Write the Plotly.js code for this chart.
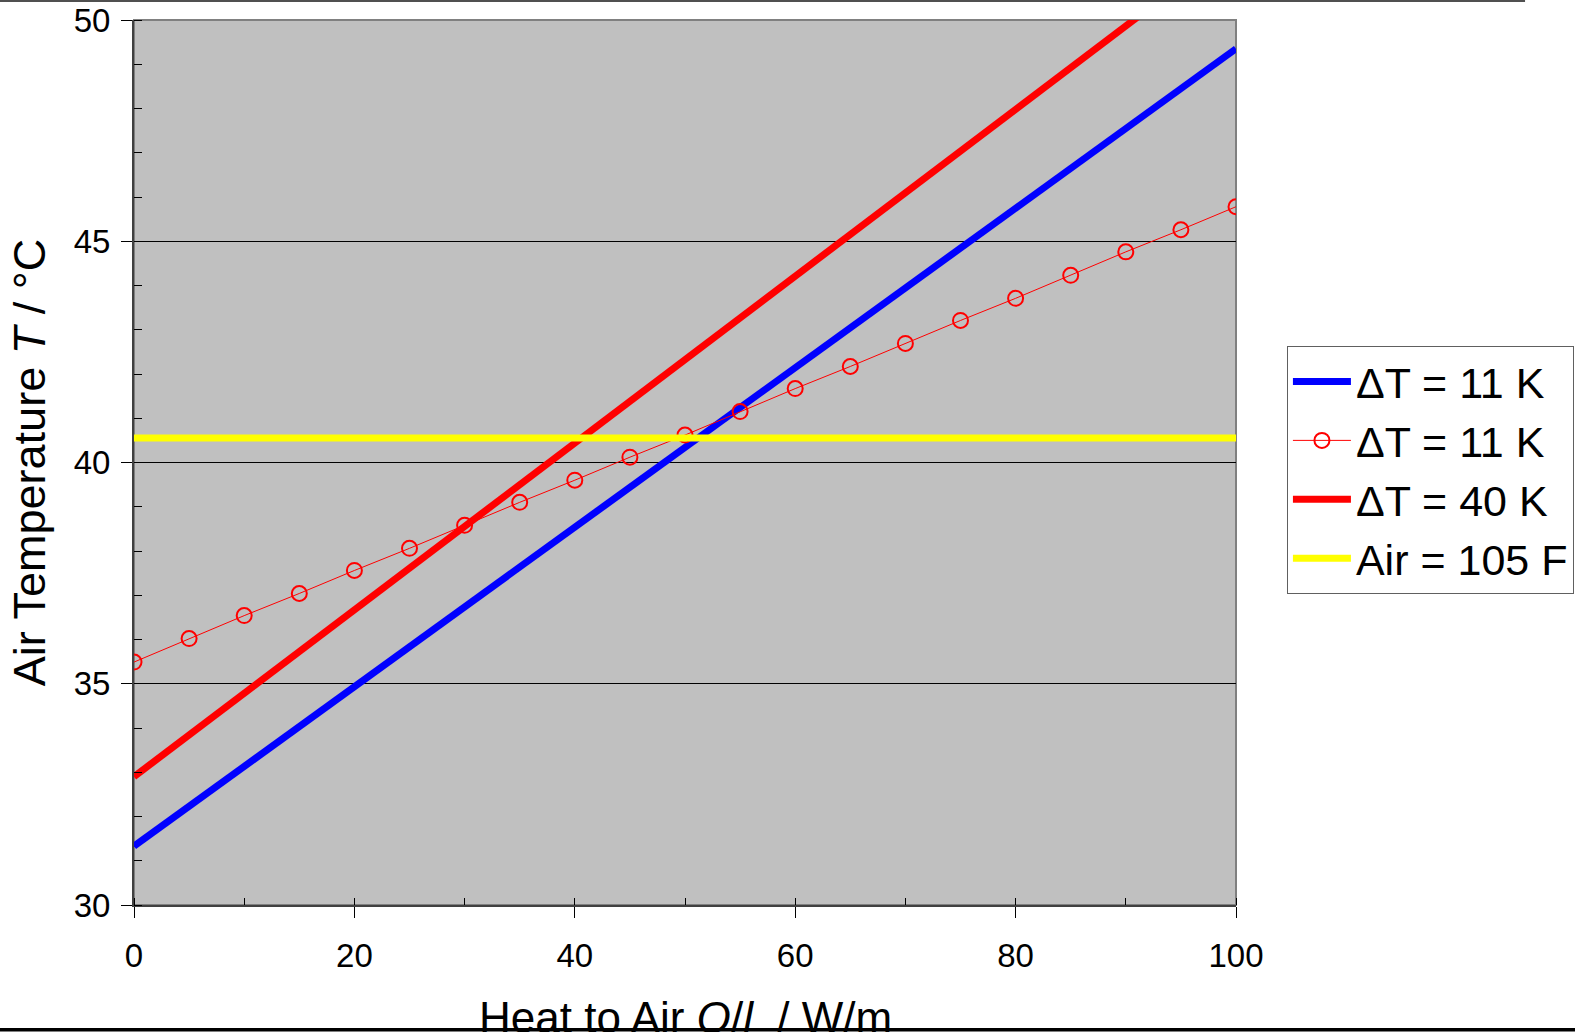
<!DOCTYPE html>
<html>
<head>
<meta charset="utf-8">
<script src="https://cdn.plot.ly/plotly-3.0.1.min.js"></script>
<style>html,body{margin:0;padding:0;background:#fff;}#chart{width:1575px;height:1032px;}</style>
</head>
<body>
<div id="chart"></div>
<script>
// Data
const lineX = [0, 100];
const blue11K = [31.33, 49.35];
const red40KX = [0, 100];
const red40K = [32.9, 51.75];
const air105F = [40.556, 40.556];

const markerX = [0, 5, 10, 15, 20, 25, 30, 35, 40, 45, 50, 55, 60, 65, 70, 75, 80, 85, 90, 95, 100];
const marker11K = [35.49, 36.02, 36.54, 37.04, 37.56, 38.06, 38.58, 39.10, 39.60, 40.12, 40.62,
                   41.15, 41.67, 42.17, 42.69, 43.21, 43.71, 44.23, 44.76, 45.26, 45.78];

const seriesNames = ['\u0394T = 11 K', '\u0394T = 11 K', '\u0394T = 40 K', 'Air = 105 F'];
const xTickVals = [0, 20, 40, 60, 80, 100];
const yTickVals = [30, 35, 40, 45, 50];
const xTitle = 'Heat to Air <i>Q</i>/<i>l</i>  / W/m';
const yTitle = 'Air Temperature <i>T</i> / \u00B0C';

const FONT = 'Liberation Sans, Arial, sans-serif';

const traces = [
  {x: lineX, y: blue11K, name: seriesNames[0], mode: 'lines',
   line: {color: '#0000FF', width: 7}},
  {x: markerX, y: marker11K, name: seriesNames[1], mode: 'lines+markers',
   line: {color: '#FF0000', width: 1},
   marker: {symbol: 'circle-open', size: 15, color: '#FF0000', line: {width: 2, color: '#FF0000'}}},
  {x: red40KX, y: red40K, name: seriesNames[2], mode: 'lines',
   line: {color: '#FF0000', width: 7}},
  {x: lineX, y: air105F, name: seriesNames[3], mode: 'lines',
   line: {color: '#FFFF00', width: 7}}
];

const layout = {
  width: 1575, height: 1032,
  margin: {l: 134, r: 339, t: 20, b: 127, pad: 0, autoexpand: false},
  paper_bgcolor: '#FFFFFF',
  plot_bgcolor: '#C0C0C0',
  font: {family: FONT, color: '#000000', size: 33},
  showlegend: true,
  legend: {
    xref: 'container', yref: 'container',
    x: 0.8171, y: 0.6647, xanchor: 'left', yanchor: 'top',
    bgcolor: '#FFFFFF', bordercolor: '#606060', borderwidth: 1,
    font: {family: FONT, size: 43, color: '#000000'},
    tracegroupgap: 0, itemwidth: 58
  },
  xaxis: {
    range: [0, 100], tickvals: xTickVals, ticktext: xTickVals.map(String),
    showgrid: false, zeroline: false,
    showline: true, linecolor: '#404040', linewidth: 2,
    ticks: 'outside', ticklen: 11, tickwidth: 1, tickcolor: '#000000',
    ticklabelstandoff: 9,
    minor: {dtick: 10, ticks: 'inside', ticklen: 7, tickwidth: 1, tickcolor: '#000000', showgrid: false},
    tickfont: {family: FONT, size: 33, color: '#000000'}
  },
  yaxis: {
    range: [30, 50], tickvals: yTickVals, ticktext: yTickVals.map(String),
    showgrid: true, gridcolor: '#000000', gridwidth: 1, zeroline: false,
    showline: true, linecolor: '#404040', linewidth: 2,
    ticks: 'outside', ticklen: 11, tickwidth: 1, tickcolor: '#000000',
    ticklabelstandoff: 4,
    minor: {dtick: 1, ticks: 'inside', ticklen: 8, tickwidth: 1, tickcolor: '#000000', showgrid: false},
    tickfont: {family: FONT, size: 33, color: '#000000'},
    title: {text: yTitle, font: {family: FONT, size: 45, color: '#000000'}, standoff: 14}
  },
  annotations: [
    {text: xTitle, xref: 'paper', yref: 'paper', x: 0.5, y: -0.0972,
     xanchor: 'center', yanchor: 'top', showarrow: false,
     font: {family: FONT, size: 44, color: '#000000'}}
  ],
  shapes: [
    {type: 'rect', xref: 'paper', yref: 'paper', x0: 0, x1: 1, y0: 0, y1: 1,
     line: {color: '#808080', width: 2}, fillcolor: 'rgba(0,0,0,0)', layer: 'between'},
    {type: 'line', xref: 'paper', yref: 'paper', x0: -0.1216, x1: 1.2623, y0: 1.0215, y1: 1.0215,
     line: {color: '#505050', width: 2}},
    {type: 'rect', xref: 'paper', yref: 'paper', x0: -0.13, x1: 1.32, y0: -0.1430, y1: -0.1390,
     line: {width: 0}, fillcolor: '#000000'}
  ]
};

Plotly.newPlot('chart', traces, layout, {displayModeBar: false, staticPlot: true});
</script>
</body>
</html>
